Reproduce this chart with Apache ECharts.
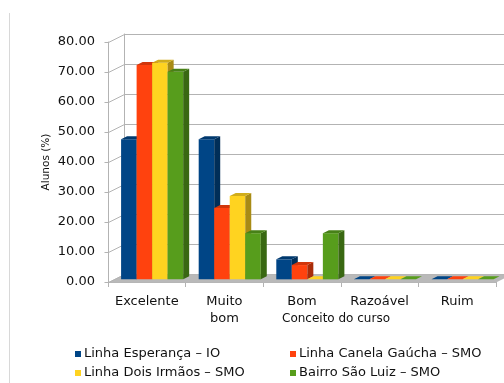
<!DOCTYPE html>
<html>
<head>
<meta charset="utf-8">
<script src="https://cdn.jsdelivr.net/npm/echarts@6/dist/echarts.min.js"></script>
<style>
  html, body { margin: 0; padding: 0; background: #ffffff; }
  #chart { width: 504px; height: 383px; }
</style>
</head>
<body>
<div id="chart"></div>
<script>
// Course rating by community (percentage of students)
const categories = ['Excelente', 'Muito bom', 'Bom', 'Razoável', 'Ruim'];
const seriesNames = [
  'Linha Esperança – IO',
  'Linha Canela Gaúcha – SMO',
  'Linha Dois Irmãos – SMO',
  'Bairro São Luiz – SMO'
];
const linhaEsperanca = [46.67, 46.67, 6.67, 0, 0];
const linhaCanelaGaucha = [71.43, 23.81, 4.76, 0, 0];
const linhaDoisIrmaos = [72.22, 27.78, 0, 0, 0];
const bairroSaoLuiz = [69.23, 15.38, 15.38, 0, 0];
const yTicks = [0, 10, 20, 30, 40, 50, 60, 70, 80];

const seriesValues = [linhaEsperanca, linhaCanelaGaucha, linhaDoisIrmaos, bairroSaoLuiz];
const palette = ['#004586', '#ff420e', '#ffd320', '#579d1c'];
const FONT = 'DejaVu Sans';

// 3D frame: offset from front plane to back wall
const WALL_DX = 16, WALL_DY = -8;
// bars sit a third of the way into the depth, with their own depth
const BAR_DX = WALL_DX / 3, BAR_DY = WALL_DY / 3;
const DEPTH_DX = 6, DEPTH_DY = -3;

function shade(hex, k) {
  const n = parseInt(hex.slice(1), 16);
  const r = Math.round(((n >> 16) & 255) * k);
  const g = Math.round(((n >> 8) & 255) * k);
  const b = Math.round((n & 255) * k);
  return 'rgb(' + r + ',' + g + ',' + b + ')';
}

function renderFrame(params, api) {
  const cs = params.coordSys;
  const y0 = Math.round(api.coord([0, 0])[1]) + 0.5;
  const children = [{
    type: 'polygon',
    shape: { points: [
      [cs.x, y0], [cs.x + cs.width, y0],
      [cs.x + cs.width + WALL_DX, y0 + WALL_DY], [cs.x + WALL_DX, y0 + WALL_DY]
    ] },
    style: { fill: '#b9b9b9' }
  }];
  yTicks.forEach(function (t) {
    const y = Math.round(api.coord([0, t])[1]) + 0.5;
    const x = Math.round(cs.x) + 0.5;
    children.push({
      type: 'polyline',
      shape: { points: [[x - 4, y], [x, y], [x + WALL_DX, y + WALL_DY]] },
      style: { stroke: '#b3b3b3', lineWidth: 1, fill: null }
    });
  });
  return { type: 'group', children: children };
}

function barRenderer(s) {
  const base = palette[s];
  const sideColor = shade(base, 0.66);
  const topColor = shade(base, 0.82);
  return function (params, api) {
    const i = api.value(0);
    const v = api.value(1);
    const band = api.size([1, 0])[0];
    const p0 = api.coord([i, 0]);
    const p1 = api.coord([i, v]);
    const w = band * 0.2;
    const x = p0[0] - band / 2 + band * 0.1 + s * w + BAR_DX;
    const yb = p0[1] + BAR_DY;
    const yt = p1[1] + BAR_DY;
    const children = [];
    if (yb - yt > 0.1) {
      children.push({
        type: 'rect',
        shape: { x: x, y: yt, width: w, height: yb - yt },
        style: { fill: base }
      });
      children.push({
        type: 'polygon',
        shape: { points: [[x + w, yt], [x + w + DEPTH_DX, yt + DEPTH_DY],
                          [x + w + DEPTH_DX, yb + DEPTH_DY], [x + w, yb]] },
        style: { fill: sideColor }
      });
    }
    children.push({
      type: 'polygon',
      shape: { points: [[x, yt], [x + DEPTH_DX, yt + DEPTH_DY],
                        [x + w + DEPTH_DX, yt + DEPTH_DY], [x + w, yt]] },
      style: { fill: yb - yt > 0.1 ? topColor : base }
    });
    return { type: 'group', children: children };
  };
}

const barSeries = seriesValues.map(function (vals, s) {
  return {
    name: seriesNames[s],
    type: 'custom',
    coordinateSystem: 'cartesian2d',
    xAxisIndex: 0,
    yAxisIndex: 0,
    itemStyle: { color: palette[s] },
    renderItem: barRenderer(s),
    encode: { x: 0, y: 1 },
    data: vals.map(function (v, i) { return [i, v]; }),
    z: 3 + s
  };
});

// legend laid out in two columns, one entry per component
const legendSlots = [[75, 347], [290, 347], [75, 366], [290, 366]];
const legends = seriesNames.map(function (name, s) {
  return {
    left: legendSlots[s][0],
    top: legendSlots[s][1],
    icon: 'rect',
    itemWidth: 6,
    itemHeight: 6,
    padding: 0,
    data: [name],
    textStyle: { fontFamily: FONT, fontSize: 13, color: '#111', lineHeight: 14, padding: [0, 0, 0, -2] }
  };
});

const option = {
  animation: false,
  backgroundColor: '#ffffff',
  color: palette,
  grid: [
    { left: 108, right: 8, top: 42, bottom: 101 },
    { left: 124, right: 0, top: 34, bottom: 109 }
  ],
  xAxis: [
    {
      gridIndex: 0,
      type: 'category',
      data: categories,
      boundaryGap: true,
      axisLine: { show: true, lineStyle: { color: '#b3b3b3' } },
      axisTick: { show: true, length: 5, interval: 0, lineStyle: { color: '#b3b3b3' } },
      axisLabel: {
        interval: 0,
        margin: 11,
        fontFamily: FONT,
        fontSize: 13,
        color: '#111',
        lineHeight: 17,
        formatter: function (v) { return v.replace(' ', '\n'); }
      },
      name: 'Conceito do curso',
      nameLocation: 'middle',
      nameGap: 31,
      nameMoveOverlap: false,
      nameTextStyle: { fontFamily: FONT, fontSize: 12, color: '#111', align: 'center', padding: [0, 0, 0, 68] },
      splitLine: { show: false }
    },
    {
      gridIndex: 1,
      type: 'category',
      data: categories,
      show: false
    }
  ],
  yAxis: [
    {
      gridIndex: 0,
      type: 'value',
      min: 0,
      max: 80,
      interval: 10,
      axisLine: { show: true, lineStyle: { color: '#b3b3b3' } },
      axisTick: { show: false },
      splitLine: { show: false },
      axisLabel: {
        margin: 13,
        fontFamily: FONT,
        fontSize: 13,
        color: '#111',
        formatter: function (v) { return v.toFixed(2); }
      },
      name: 'Alunos (%)',
      nameLocation: 'middle',
      nameRotate: 90,
      nameGap: 56,
      nameMoveOverlap: false,
      nameTextStyle: { fontFamily: FONT, fontSize: 10.5, color: '#111' }
    },
    {
      gridIndex: 1,
      type: 'value',
      min: 0,
      max: 80,
      interval: 10,
      axisLine: { show: true, lineStyle: { color: '#b3b3b3' } },
      axisTick: { show: false },
      axisLabel: { show: false },
      splitLine: { show: true, lineStyle: { color: '#b3b3b3', width: 1 } }
    }
  ],
  legend: legends,
  graphic: [
    {
      type: 'line',
      shape: { x1: 9.5, y1: 13, x2: 9.5, y2: 383 },
      style: { stroke: '#d8d8d8', lineWidth: 1 },
      silent: true
    }
  ],
  series: [
    {
      type: 'custom',
      name: 'frame',
      coordinateSystem: 'cartesian2d',
      xAxisIndex: 0,
      yAxisIndex: 0,
      silent: true,
      renderItem: renderFrame,
      encode: { x: 0, y: 1 },
      data: [[0, 0]],
      z: 1
    }
  ].concat(barSeries)
};

const chart = echarts.init(document.getElementById('chart'), null, { renderer: 'canvas' });
chart.setOption(option);
</script>
</body>
</html>
